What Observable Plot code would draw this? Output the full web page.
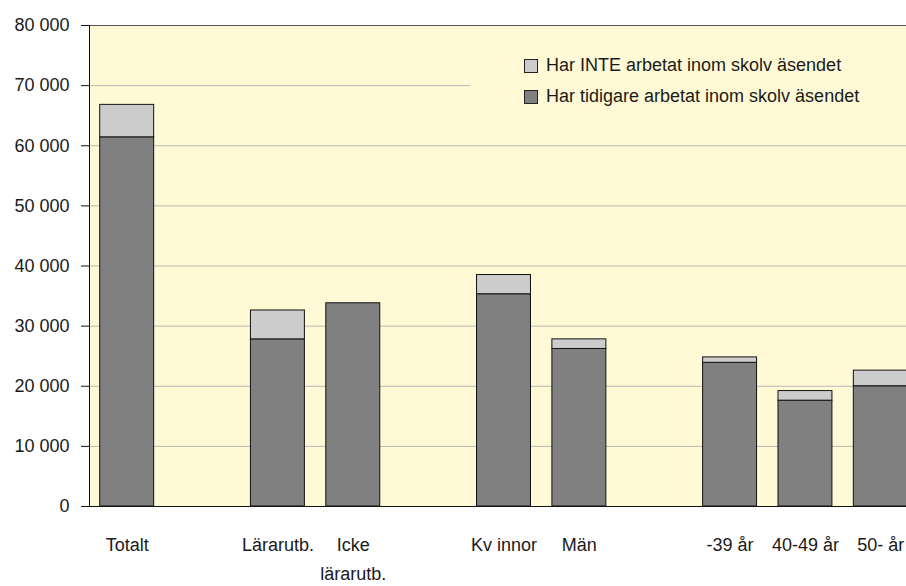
<!DOCTYPE html>
<html>
<head>
<meta charset="utf-8">
<script src="https://cdn.jsdelivr.net/npm/d3@7"></script>
<script src="https://cdn.jsdelivr.net/npm/@observablehq/plot@0.6"></script>
<style>
  html, body { margin: 0; padding: 0; background: #fff; }
  #wrap { position: relative; width: 906px; height: 586px; overflow: hidden; font-family: "Liberation Sans", Arial, sans-serif; }
  #legend { position: absolute; left: 470px; top: 44px; width: 436px; height: 76px; background: #FFFAD5; font-size: 18px; color: #1a1a1a; }
  .row { position: absolute; left: 54px; display: flex; align-items: center; white-space: nowrap; }
  .sw { width: 12px; height: 12px; border: 1px solid #222; margin-right: 8px; }
</style>
</head>
<body>
<div id="wrap"></div>
<script>
// ---- data ----
const slots = ["Totalt", "_1", "Lärarutb.", "Icke\nlärarutb.", "_2", "Kv innor", "Män", "_3", "-39 år", "40-49 år", "50- år"];
const categories = ["Totalt", "Lärarutb.", "Icke\nlärarutb.", "Kv innor", "Män", "-39 år", "40-49 år", "50- år"];
const seriesNames = ["Har tidigare arbetat inom skolv äsendet", "Har INTE arbetat inom skolv äsendet"];
const tidigare = [61400, 27800, 33800, 35300, 26200, 23900, 17600, 20000];
const inte = [5400, 4800, 0, 3200, 1600, 900, 1600, 2600];
const yTicks = [0, 10000, 20000, 30000, 40000, 50000, 60000, 70000, 80000];
const colors = ["#808080", "#CCCCCC"];

const data = [];
categories.forEach((c, i) => {
  data.push({cat: c, series: seriesNames[0], value: tidigare[i]});
  if (inte[i] > 0) data.push({cat: c, series: seriesNames[1], value: inte[i]});
});

const fmt = d => d3.format(",")(d).replace(/,/g, " ");

const chart = Plot.plot({
  width: 906,
  height: 586,
  marginLeft: 89,
  marginRight: 0,
  marginTop: 25,
  marginBottom: 80,
  style: {fontFamily: "Liberation Sans, Arial, sans-serif", fontSize: "18px", color: "#1a1a1a", background: "#fff"},
  x: {domain: slots, range: [89, 918], paddingInner: 0.284, paddingOuter: 0.142, round: false, axis: null, label: null},
  y: {domain: [0, 80000], axis: null, label: null},
  color: {domain: seriesNames, range: colors},
  marks: [
    Plot.frame({fill: "#FFFAD5"}),
    Plot.ruleY(yTicks.filter(d => d > 0 && d < 80000), {stroke: "#b8b8b8", strokeWidth: 1}),
    Plot.ruleY([80000], {stroke: "#555", strokeWidth: 1}),
    Plot.barY(data, Plot.stackY({order: seriesNames, x: "cat", y: "value", fill: "series", stroke: "#111", strokeWidth: 1})),
    Plot.frame({anchor: "left", stroke: "#111"}),
    Plot.ruleY([0], {stroke: "#111", strokeWidth: 1.2}),
    Plot.axisY({ticks: yTicks, tickFormat: fmt, tickSize: 8, tickPadding: 12, stroke: "#111", fontSize: 18, label: null}),
    Plot.axisX({ticks: categories, tickSize: 0, tickPadding: 24, lineHeight: 1.62, fontSize: 18, label: null})
  ]
});

const wrap = document.getElementById("wrap");
wrap.appendChild(chart);
const legend = document.createElement("div");
legend.id = "legend";
legend.innerHTML = `
  <div class="row" style="top:11px"><span class="sw" style="background:${colors[1]}"></span>${seriesNames[1]}</div>
  <div class="row" style="top:42px"><span class="sw" style="background:${colors[0]}"></span>${seriesNames[0]}</div>`;
wrap.appendChild(legend);
</script>
</body>
</html>
